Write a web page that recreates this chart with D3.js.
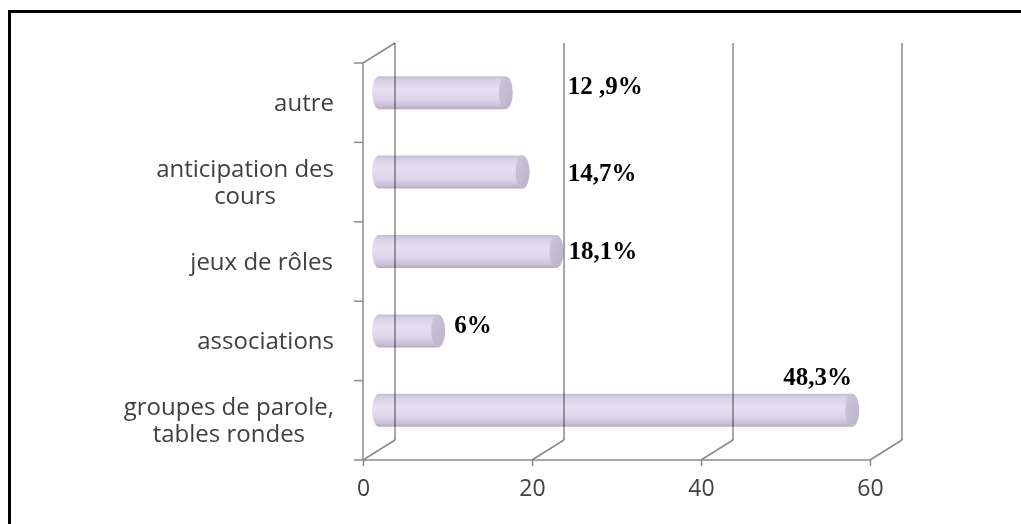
<!DOCTYPE html>
<html><head><meta charset="utf-8">
<script src="https://cdn.jsdelivr.net/npm/d3@7"></script>
<style>html,body{margin:0;padding:0;background:#fff;}svg{display:block;}</style>
</head><body>
<svg id="chart" width="1021" height="524"></svg>
<script>
// ---- data ----
const categories = [["autre"], ["anticipation des", "cours"], ["jeux de rôles"], ["associations"], ["groupes de parole,", "tables rondes"]];
const counts = [15, 17, 21, 7, 56];
const valueLabels = ["12 ,9%", "14,7%", "18,1%", "6%", "48,3%"];
const xTicks = [0, 20, 40, 60];
// label placement relative to bar end (layout only)
const labelDx = [55, 38, 5, 9, -76];
const labelDy = [1, 9, 7, 2, -25];

const svg = d3.select("#chart");
const W = 1021, H = 524;

// frame (top + left only visible)
svg.append("line").attr("x1", 9.5).attr("x2", W).attr("y1", 11.5).attr("y2", 11.5).attr("stroke", "#000").attr("stroke-width", 3);
svg.append("line").attr("x1", 9.5).attr("x2", 9.5).attr("y1", 10).attr("y2", H).attr("stroke", "#000").attr("stroke-width", 3);

const x = d3.scaleLinear().domain([0, 60]).range([363, 870]);
const y = d3.scaleBand().domain(d3.range(categories.length)).range([63, 460]).padding(0);
const DX = 32, DY = -20; // 3D depth offset
const gridColor = "#8a8a8a";
const sans = "'Open Sans', 'Noto Sans', sans-serif";

const defs = svg.append("defs");
const g1 = defs.append("linearGradient").attr("id", "body").attr("x1", 0).attr("x2", 0).attr("y1", 0).attr("y2", 1);
[[0, "#c4bcd2"], [0.12, "#d8d0e5"], [0.4, "#e7e0f1"], [0.7, "#ddd5ea"], [0.9, "#c9c0d7"], [1, "#b3aac2"]]
  .forEach(([o, c]) => g1.append("stop").attr("offset", o).attr("stop-color", c));
const g2 = defs.append("linearGradient").attr("id", "cap").attr("x1", 0).attr("x2", 1).attr("y1", 0).attr("y2", 1);
[[0, "#cdc6d9"], [1, "#bab2c8"]].forEach(([o, c]) => g2.append("stop").attr("offset", o).attr("stop-color", c));

// floor & front axes
const axisG = svg.append("g");
axisG.append("line").attr("x1", x(0)).attr("x2", x(60)).attr("y1", 460).attr("y2", 460).attr("stroke", gridColor).attr("stroke-width", 1.5);
axisG.append("line").attr("x1", x(0)).attr("x2", x(0)).attr("y1", y.range()[0]).attr("y2", 460).attr("stroke", gridColor).attr("stroke-width", 1.5);
axisG.append("line").attr("x1", x(0)).attr("x2", x(0) + DX).attr("y1", y.range()[0]).attr("y2", y.range()[0] + DY).attr("stroke", gridColor).attr("stroke-width", 1.5);
axisG.selectAll("line.diag").data(xTicks).join("line").attr("class", "diag")
  .attr("x1", d => x(d)).attr("x2", d => x(d) + DX).attr("y1", 460).attr("y2", 460 + DY)
  .attr("stroke", gridColor).attr("stroke-width", 1.5);
const edges = d3.range(categories.length + 1).map(i => y.range()[0] + i * y.bandwidth());
axisG.selectAll("line.yt").data(edges).join("line").attr("class", "yt")
  .attr("x1", x(0) - 9).attr("x2", x(0)).attr("y1", d => d).attr("y2", d => d)
  .attr("stroke", gridColor).attr("stroke-width", 1.5);

// x axis via d3
const xAxis = d3.axisBottom(x).tickValues(xTicks).tickSize(6).tickPadding(9).tickFormat(d3.format("d"));
const xg = svg.append("g").attr("transform", "translate(0,460)").call(xAxis);
xg.select(".domain").remove();
xg.selectAll(".tick line").attr("stroke", gridColor).attr("stroke-width", 1.5);
xg.selectAll(".tick text").attr("fill", "#404040").attr("font-family", sans).attr("font-size", 23)
  .attr("dy", "0.9em");

// bars (at mid depth)
const bh = 33, rx = 7;
const barG = svg.append("g");
counts.forEach((v, i) => {
  const cy = y(i) + y.bandwidth() / 2 + DY / 2;
  const xs = x(0) + DX / 2, xe = x(v) + DX / 2;
  const g = barG.append("g");
  g.append("path")
    .attr("d", `M${xs},${cy - bh / 2} L${xe},${cy - bh / 2} L${xe},${cy + bh / 2} L${xs},${cy + bh / 2} A${rx},${bh / 2} 0 0 1 ${xs},${cy - bh / 2} Z`)
    .attr("fill", "url(#body)");
  g.append("ellipse").attr("cx", xe).attr("cy", cy).attr("rx", rx).attr("ry", bh / 2).attr("fill", "url(#cap)");
});

// back wall lines (drawn over bars, multiply)
svg.append("g").style("mix-blend-mode", "multiply")
  .selectAll("line").data(xTicks).join("line")
  .attr("x1", d => x(d) + DX).attr("x2", d => x(d) + DX)
  .attr("y1", y.range()[0] + DY).attr("y2", 460 + DY)
  .attr("stroke", gridColor).attr("stroke-width", 1.5);

// category labels
const catG = svg.append("g").attr("font-family", sans).attr("font-size", 24).attr("fill", "#404040").attr("text-anchor", "middle");
categories.forEach((lines, i) => {
  const cy = y(i) + y.bandwidth() / 2;
  const lh = 27;
  const t = catG.append("text");
  lines.forEach((s, k) => {
    t.append("tspan").attr("x", 0).attr("y", cy + (k - (lines.length - 1) / 2) * lh).attr("dy", "0.35em").text(s);
  });
  const bb = t.node().getBBox();
  t.attr("transform", `translate(${334 - bb.width / 2},0)`);
});

// value labels
const valG = svg.append("g").attr("font-family", "'Liberation Serif', 'Times New Roman', serif").attr("font-weight", "bold").attr("font-size", 25).attr("fill", "#000");
counts.forEach((v, i) => {
  const cy = y(i) + y.bandwidth() / 2 + DY / 2;
  const xe = x(v) + DX / 2 + rx;
  valG.append("text").attr("x", xe + labelDx[i]).attr("y", cy + labelDy[i]).text(valueLabels[i]);
});
</script>
</body></html>
